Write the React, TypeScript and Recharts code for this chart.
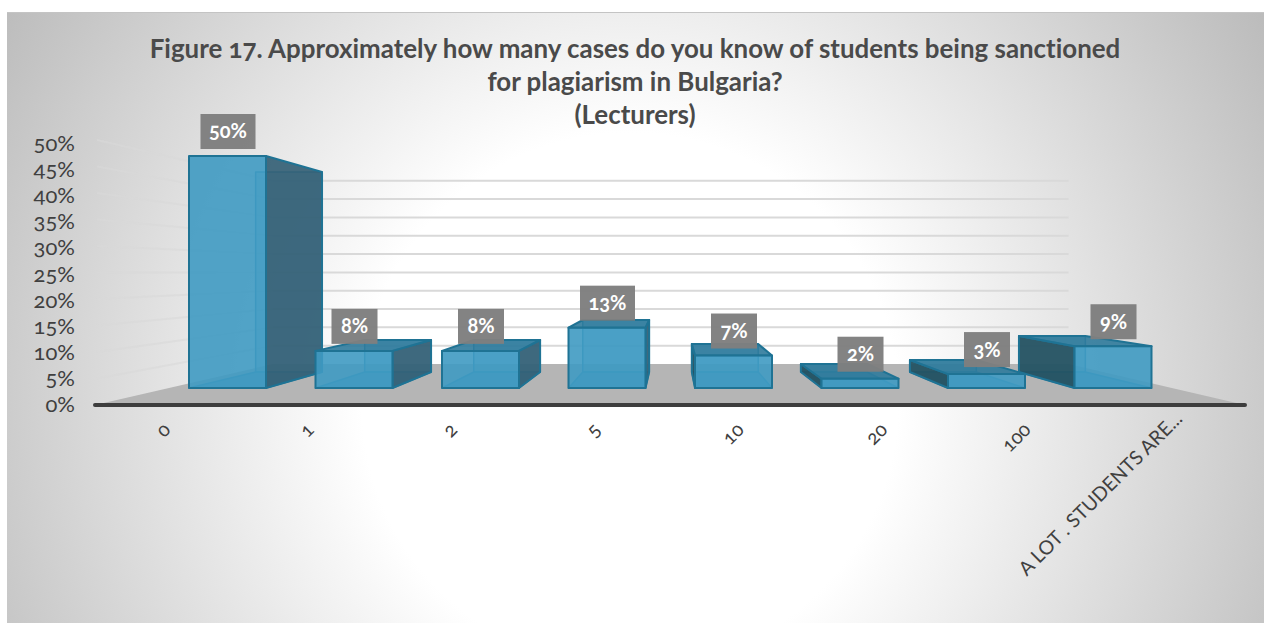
import React from "react";
import { ComposedChart, Bar, Line, XAxis, YAxis, CartesianGrid, LabelList, Customized } from "recharts";

const categories = ["0", "1", "2", "5", "10", "20", "100", "A LOT . STUDENTS ARE..."];
const shares = [50, 8, 8, 13, 7, 2, 3, 9];
const axisTicks = [0, 5, 10, 15, 20, 25, 30, 35, 40, 45, 50];
const titleLines = [
  "Figure 17. Approximately how many cases do you know of students being sanctioned",
  "for plagiarism in Bulgaria?",
  "(Lecturers)",
];
const rows = categories.map((name, i) => ({ name, value: shares[i] }));

const FONT = "Lato, 'Open Sans', sans-serif";
const NUMS = {
  fontFeatureSettings: '"onum", "liga" 0',
  fontVariantNumeric: "oldstyle-nums",
  fontVariantLigatures: "none",
} as React.CSSProperties;
const VP = { x: 672, y: 272 };
const BAR_DEPTH = 0.138;
const ROOM_DEPTH = 0.308;
const FLOOR_L = 95;
const FLOOR_R = 1245;
const FLOOR_Y = 405;
const Y_LABEL_RIGHT = 75;

const proj = (x: number, y: number, t: number) => ({ x: x + t * (VP.x - x), y: y + t * (VP.y - y) });
const pts = (a: { x: number; y: number }[]) => a.map((p) => `${p.x},${p.y}`).join(" ");

function Title() {
  return (
    <g>
      {titleLines.map((t, i) => (
        <text
          key={i}
          x={635}
          y={58 + i * 33}
          textAnchor="middle"
          fontFamily={FONT}
          fontWeight={700}
          fontSize={25.9}
          fill="#4a4a4a"
          style={NUMS}
        >
          {t}
        </text>
      ))}
    </g>
  );
}

function GridLine(props: any) {
  const y = props.y1;
  if (Math.abs(y - FLOOR_Y) < 1) {
    const bl = proj(FLOOR_L, FLOOR_Y, ROOM_DEPTH);
    const br = proj(FLOOR_R, FLOOR_Y, ROOM_DEPTH);
    return (
      <polygon
        points={pts([{ x: FLOOR_L, y: FLOOR_Y }, bl, br, { x: FLOOR_R, y: FLOOR_Y }])}
        fill="#b5b5b5"
      />
    );
  }
  const fy = FLOOR_Y - (FLOOR_Y - y) * 1.015;
  const a = proj(FLOOR_L, fy, ROOM_DEPTH);
  const b = proj(FLOOR_R, fy, ROOM_DEPTH);
  return (
    <g>
      <line x1={FLOOR_L + 2} y1={fy} x2={a.x} y2={a.y} stroke="#d9d9d9" strokeOpacity={0.6} strokeWidth={2} />
      <line x1={a.x} y1={a.y} x2={b.x} y2={b.y} stroke="#d9d9d9" strokeWidth={2} />
    </g>
  );
}

function Cuboid(props: any) {
  const { x, y, width, height } = props;
  const l = x;
  const r = x + width;
  const t = y;
  const b = y + height;
  const fTL = { x: l, y: t };
  const fTR = { x: r, y: t };
  const fBL = { x: l, y: b };
  const fBR = { x: r, y: b };
  const bTL = proj(l, t, BAR_DEPTH);
  const bTR = proj(r, t, BAR_DEPTH);
  const bBL = proj(l, b, BAR_DEPTH);
  const bBR = proj(r, b, BAR_DEPTH);
  const edge = { stroke: "#1f7394", strokeWidth: 2, strokeLinejoin: "round" as const };
  const inner = { stroke: "#2b88ad", strokeWidth: 1.5, strokeLinejoin: "round" as const };
  const rightSide = r < VP.x;
  const side = rightSide ? [fTR, bTR, bBR, fBR] : [fTL, bTL, bBL, fBL];
  return (
    <g>
      <polygon points={pts([bTL, bTR, bBR, bBL])} fill="#4a9fc4" fillOpacity={0.45} {...inner} />
      <polygon points={pts([fBL, fBR, bBR, bBL])} fill="#3d8fb2" fillOpacity={0.75} {...inner} />
      <polygon points={pts(side)} fill={rightSide ? "#345f75" : "#24505f"} fillOpacity={0.92} {...edge} />
      {t > VP.y && <polygon points={pts([fTL, fTR, bTR, bTL])} fill="#2f7a9b" fillOpacity={0.9} {...edge} />}
      <polygon points={pts([fTL, fTR, fBR, fBL])} fill="#3f9ac2" fillOpacity={0.9} {...edge} />
    </g>
  );
}

function BoxLabel(props: any) {
  const { x, y, width, value } = props;
  const text = `${value}%`;
  const w = text.length > 2 ? 55 : 46;
  const cx = x + width / 2 + 0.5;
  const cy = y - 24.5;
  return (
    <g>
      <rect x={cx - w / 2} y={cy - 17.5} width={w} height={35} fill="#7f7f7f" fillOpacity={0.97} />
      <text
        x={cx}
        y={cy + 7}
        textAnchor="middle"
        fontFamily={FONT}
        fontWeight={700}
        fontSize={20}
        fill="#ffffff"
        style={NUMS}
      >
        {text}
      </text>
    </g>
  );
}

function YTick(props: any) {
  const { y, payload } = props;
  return (
    <text
      x={Y_LABEL_RIGHT}
      y={y + 7}
      textAnchor="end"
      fontFamily={FONT}
      fontSize={22}
      fill="#404040"
      style={NUMS}
    >
      {`${payload.value}%`}
    </text>
  );
}

function XTick(props: any) {
  const { x, payload, index } = props;
  const isLast = index === categories.length - 1;
  const px = 172 + (x - 227.5) * 1.1335 + (isLast ? 8 : 0);
  const py = isLast ? 420 : 431;
  return (
    <text
      x={px}
      y={py}
      textAnchor="end"
      transform={`rotate(-45 ${px} ${py})`}
      fontFamily={FONT}
      fontSize={19.5}
      fill="#404040"
      style={NUMS}
    >
      {payload.value}
    </text>
  );
}

function AxisBar() {
  return (
    <line
      x1={FLOOR_L}
      y1={FLOOR_Y}
      x2={FLOOR_R}
      y2={FLOOR_Y}
      stroke="#3d3d3d"
      strokeWidth={4}
      strokeLinecap="round"
    />
  );
}

export default function App() {
  return (
    <div style={{ position: "absolute", left: 0, top: 0, width: 1264, height: 623 }}>
      <div
        style={{
          position: "absolute",
          left: 7,
          top: 12,
          width: 1257,
          height: 611,
          boxSizing: "border-box",
          borderTop: "1px solid #c4c4c4",
          background: "radial-gradient(circle 745px at 623px 388px, #ffffff 36%, #bbbbbb 100%)",
        }}
      />
      <div style={{ position: "absolute", left: 0, top: 0 }}>
        <ComposedChart
          width={1264}
          height={623}
          data={rows}
          margin={{ top: 144, right: 88, bottom: 118, left: 104 }}
        >
          <Customized component={<Title />} />
          <XAxis
            dataKey="name"
            height={100}
            interval={0}
            axisLine={false}
            tickLine={false}
            tick={<XTick />}
          />
          <YAxis
            yAxisId="left"
            width={60}
            domain={[0, 50]}
            ticks={axisTicks}
            interval={0}
            axisLine={false}
            tickLine={false}
            tick={<YTick />}
          />
          <YAxis yAxisId="front" hide domain={[-3.664, 52.586]} allowDataOverflow />
          <CartesianGrid yAxisId="left" vertical={false} horizontal={(p: any) => <GridLine key={p.key} {...p} />} />
          <Customized component={<AxisBar />} />
          <Line
            yAxisId="left"
            dataKey="value"
            stroke="none"
            dot={false}
            activeDot={false}
            legendType="none"
            isAnimationActive={false}
          />
          <Bar
            yAxisId="front"
            dataKey="value"
            barSize={77}
            isAnimationActive={false}
            shape={<Cuboid />}
          >
            <LabelList dataKey="value" content={<BoxLabel />} />
          </Bar>
        </ComposedChart>
      </div>
    </div>
  );
}
